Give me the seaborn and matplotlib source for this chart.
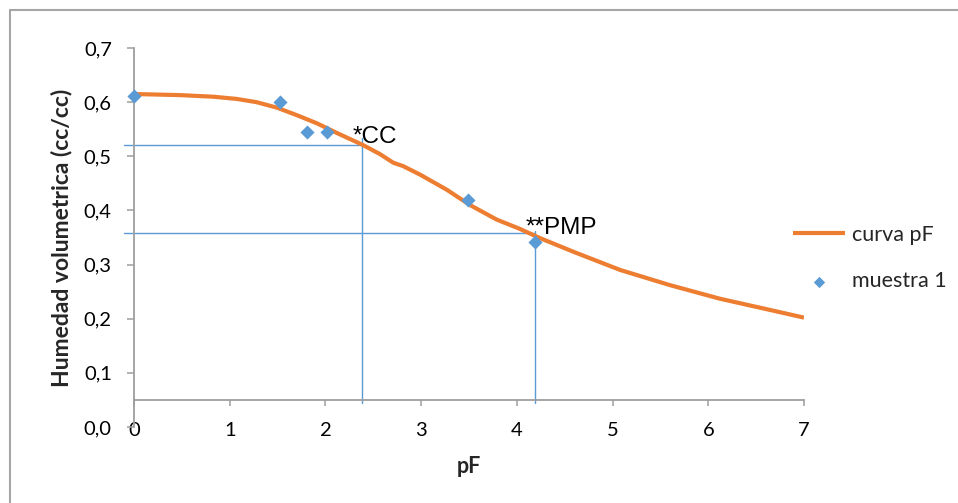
import matplotlib
matplotlib.use("Agg")
import matplotlib.pyplot as plt
from matplotlib.lines import Line2D
import seaborn as sns
import pandas as pd

# ---- data ----
curve_pF = [0.0, 0.48, 0.83, 1.07, 1.28, 1.49, 1.70, 1.91, 2.12, 2.39, 2.57, 2.71,
            2.81, 2.99, 3.27, 3.51, 3.79, 4.03, 4.24, 4.60, 5.08, 5.60, 6.12, 6.65, 7.0]
curve_theta = [0.615, 0.613, 0.610, 0.606, 0.600, 0.590, 0.576, 0.561, 0.543, 0.521,
               0.504, 0.488, 0.482, 0.466, 0.438, 0.410, 0.383, 0.366, 0.349, 0.323,
               0.290, 0.262, 0.237, 0.216, 0.202]
sample_pF = [0.0, 1.53, 1.81, 2.02, 3.49, 4.19]
sample_theta = [0.612, 0.600, 0.545, 0.544, 0.420, 0.342]

cc_pF, cc_theta = 2.38, 0.521
pmp_pF, pmp_theta = 4.19, 0.358

x_ticks = [0, 1, 2, 3, 4, 5, 6, 7]
y_ticks = [0.0, 0.1, 0.2, 0.3, 0.4, 0.5, 0.6, 0.7]
y_ticklabels = ["0,0", "0,1", "0,2", "0,3", "0,4", "0,5", "0,6", "0,7"]

ORANGE = "#ED7D31"
BLUE = "#5B9BD5"
GRID = "#9E9E9E"

sns.set_theme(style="white")
plt.rcParams["font.family"] = ["Lato", "DejaVu Sans"]

fig = plt.figure(figsize=(9.58, 5.03), dpi=100)
W, H = 958, 503
ax = fig.add_axes([134 / W, (H - 427) / H, 670 / W, 379 / H])

curve_df = pd.DataFrame({"pF": curve_pF, "theta": curve_theta})
sample_df = pd.DataFrame({"pF": sample_pF, "theta": sample_theta})

# guide lines
ax.plot([-0.1, cc_pF], [cc_theta, cc_theta], color=BLUE, lw=1.0, clip_on=False, zorder=1)
ax.plot([cc_pF, cc_pF], [0.045, 0.534], color=BLUE, lw=1.0, clip_on=False, zorder=1)
ax.plot([-0.1, pmp_pF], [pmp_theta, pmp_theta], color=BLUE, lw=1.0, clip_on=False, zorder=1)
ax.plot([pmp_pF, pmp_pF], [0.045, 0.362], color=BLUE, lw=1.0, clip_on=False, zorder=1)

sns.lineplot(data=curve_df, x="pF", y="theta", sort=False, color=ORANGE, lw=3.0,
             ax=ax, label="curva pF", zorder=3, solid_joinstyle="round",
             solid_capstyle="butt")
sns.scatterplot(data=sample_df, x="pF", y="theta", marker="D", s=52, color=BLUE,
                edgecolor=BLUE, linewidth=0, ax=ax, label="muestra 1", zorder=4,
                clip_on=False)

ax.text(2.28, 0.536, "*CC", fontsize=17.5, family=["Liberation Sans", "DejaVu Sans"],
        ha="left", va="center", color="black")
ax.text(4.09, 0.368, "**PMP", fontsize=17.5, family=["Liberation Sans", "DejaVu Sans"],
        ha="left", va="center", color="black")

ax.set_xlim(0, 7)
ax.set_ylim(0, 0.7)
ax.set_xticks(x_ticks)
ax.set_xticklabels([str(t) for t in x_ticks])
ax.set_yticks(y_ticks)
ax.set_yticklabels(y_ticklabels)

for s in ["top", "right"]:
    ax.spines[s].set_visible(False)
ax.spines["bottom"].set_position(("data", 0.05))
for s in ["left", "bottom"]:
    ax.spines[s].set_color(GRID)
    ax.spines[s].set_linewidth(1.3)

ax.tick_params(axis="x", direction="out", length=4, width=1.1, color=GRID,
               pad=12, labelsize=14.5, labelcolor="black", bottom=True)
ax.tick_params(axis="y", direction="out", length=5, width=1.1, color=GRID,
               pad=11, labelsize=14.5, labelcolor="black", left=True)

ax.set_xlabel("pF", fontsize=15.5, fontweight="bold", labelpad=12)
ax.set_ylabel("Humedad volumetrica (cc/cc)", fontsize=16.5, fontweight="bold", labelpad=8)

leg = ax.legend(loc="center left", bbox_to_anchor=(793 / W, (H - 258) / H),
                bbox_transform=fig.transFigure, frameon=False, fontsize=15.5,
                handlelength=2.4, handletextpad=0.33, labelspacing=1.25,
                borderpad=0, borderaxespad=0, markerscale=0.8)

# outer chart border (left and top visible)
fig.add_artist(Line2D([10 / W, 10 / W], [0, (H - 10) / H], transform=fig.transFigure,
                      color="#A6A6A6", lw=1.5))
fig.add_artist(Line2D([10 / W, 1], [(H - 10) / H, (H - 10) / H], transform=fig.transFigure,
                      color="#A6A6A6", lw=1.5))

fig.savefig("out.png", dpi=100)
